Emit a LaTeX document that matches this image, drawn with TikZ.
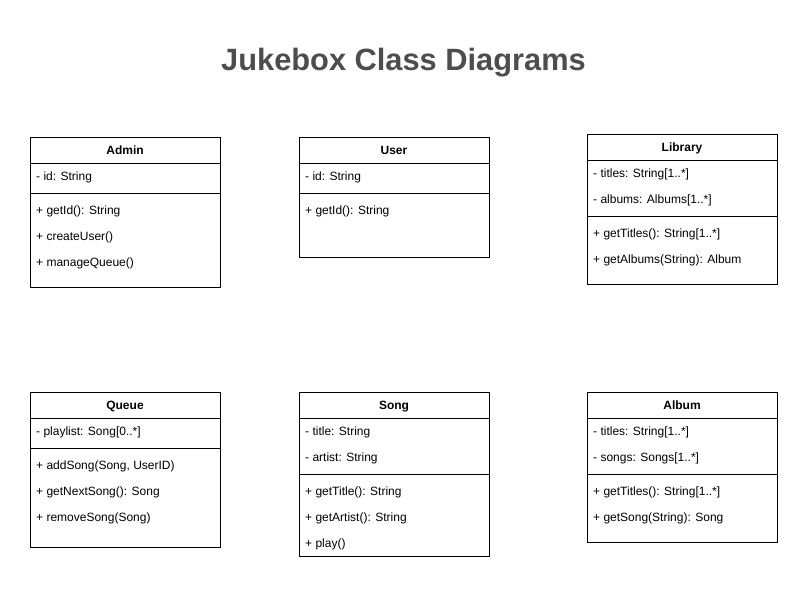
\documentclass[tikz,border=0pt]{standalone}
\usepackage{fontspec}
\setmainfont{Liberation Sans}
\definecolor{titlegrey}{HTML}{4D4D4D}
\begin{document}
\begin{tikzpicture}[x=1pt,y=-1pt,
  cls/.style={draw=black, line width=1pt, fill=white, inner sep=0pt, outer sep=0pt, minimum width=190pt, anchor=north west},
  sep/.style={draw=black, line width=1pt},
  hdr/.style={inner sep=0pt, font=\bfseries\fontsize{12}{14}\selectfont, text height=9.6pt, text depth=0pt},
  mem/.style={anchor=west, inner sep=0pt, font=\fontsize{12}{14}\selectfont, text height=9.6pt, text depth=0pt},
  ttl/.style={anchor=base, inner sep=0pt, text=titlegrey, font=\bfseries\fontsize{30.8}{36}\selectfont}]
\useasboundingbox[fill=white] (0,0) rectangle (808,590);
\node[ttl] (title) at (403.5,70) {Jukebox Class Diagrams};
% Admin
\node[cls, minimum height=150pt] (admin) at (30,137) {};
\node[hdr] (admin-h) at (125,150) {Admin};
\draw[sep] (30,163) -- (220,163);
\node[mem] (admin-a1) at (36,176) {- id: String};
\draw[sep] (30,193) -- (220,193);
\node[mem] (admin-m1) at (36,210) {+ getId(): String};
\node[mem] (admin-m2) at (36,236) {+ createUser()};
\node[mem] (admin-m3) at (36,262) {+ manageQueue()};
% User
\node[cls, minimum height=120pt] (user) at (299,137) {};
\node[hdr] (user-h) at (394,150) {User};
\draw[sep] (299,163) -- (489,163);
\node[mem] (user-a1) at (305,176) {- id: String};
\draw[sep] (299,193) -- (489,193);
\node[mem] (user-m1) at (305,210) {+ getId(): String};
% Library
\node[cls, minimum height=150pt] (library) at (587,134) {};
\node[hdr] (library-h) at (682,147) {Library};
\draw[sep] (587,160) -- (777,160);
\node[mem] (library-a1) at (593,173) {- titles: String[1..*]};
\node[mem] (library-a2) at (593,199) {- albums: Albums[1..*]};
\draw[sep] (587,216) -- (777,216);
\node[mem] (library-m1) at (593,233) {+ getTitles(): String[1..*]};
\node[mem] (library-m2) at (593,259) {+ getAlbums(String): Album};
% Queue
\node[cls, minimum height=155pt] (queue) at (30,392) {};
\node[hdr] (queue-h) at (125,405) {Queue};
\draw[sep] (30,418) -- (220,418);
\node[mem] (queue-a1) at (36,431) {- playlist: Song[0..*]};
\draw[sep] (30,448) -- (220,448);
\node[mem] (queue-m1) at (36,465) {+ addSong(Song, UserID)};
\node[mem] (queue-m2) at (36,491) {+ getNextSong(): Song};
\node[mem] (queue-m3) at (36,517) {+ removeSong(Song)};
% Song
\node[cls, minimum height=164pt] (song) at (299,392) {};
\node[hdr] (song-h) at (394,405) {Song};
\draw[sep] (299,418) -- (489,418);
\node[mem] (song-a1) at (305,431) {- title: String};
\node[mem] (song-a2) at (305,457) {- artist: String};
\draw[sep] (299,474) -- (489,474);
\node[mem] (song-m1) at (305,491) {+ getTitle(): String};
\node[mem] (song-m2) at (305,517) {+ getArtist(): String};
\node[mem] (song-m3) at (305,543) {+ play()};
% Album
\node[cls, minimum height=150pt] (album) at (587,392) {};
\node[hdr] (album-h) at (682,405) {Album};
\draw[sep] (587,418) -- (777,418);
\node[mem] (album-a1) at (593,431) {- titles: String[1..*]};
\node[mem] (album-a2) at (593,457) {- songs: Songs[1..*]};
\draw[sep] (587,474) -- (777,474);
\node[mem] (album-m1) at (593,491) {+ getTitles(): String[1..*]};
\node[mem] (album-m2) at (593,517) {+ getSong(String): Song};
\end{tikzpicture}
\end{document}
